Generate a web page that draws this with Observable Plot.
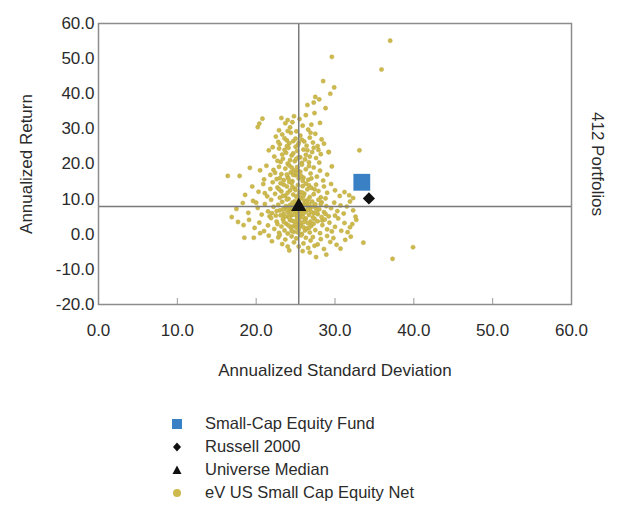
<!DOCTYPE html>
<html><head><meta charset="utf-8">
<script src="https://cdn.jsdelivr.net/npm/d3@7"></script>
<script src="https://cdn.jsdelivr.net/npm/@observablehq/plot@0.6"></script>
<style>
body{margin:0;background:#fff;font-family:"Liberation Sans",Arial,sans-serif;}
#chart{position:relative;width:621px;height:506px;overflow:hidden;}
#legend{position:absolute;left:170px;top:412px;}
#legend .row{height:23px;display:flex;align-items:center;font-size:16.5px;color:#2b2b2b;}
#legend svg{width:14px;height:14px;margin-right:21px;}
</style></head><body><div id="chart"><div id="plot"></div><div id="legend"></div></div>
<script>
// ---- data ----
const xTicks = [0, 10, 20, 30, 40, 50, 60];
const yTicks = [-20, -10, 0, 10, 20, 30, 40, 50, 60];
const seriesNames = ["Small-Cap Equity Fund", "Russell 2000", "Universe Median", "eV US Small Cap Equity Net"];
const seriesColors = ["#3a80c4", "#111111", "#111111", "#cdb94c"];
const seriesSymbols = ["square", "diamond2", "triangle", "circle"];
const fundPoint = [33.4, 14.8];
const indexPoint = [34.3, 10.2];
const medianPoint = [25.4, 7.9];
const portfolioCount = "412 Portfolios";
const peers = [
[23.2,33.1],[24.0,32.5],[24.8,33.6],[25.5,32.8],[26.3,33.9],[27.4,34.5],[27.0,31.2],[24.3,30.4],[25.9,30.9],[23.7,31.6],[26.6,29.8],[28.1,31.7],[22.9,29.6],[25.1,29.3],[24.6,31.9],
[22.5,27.8],[23.3,28.4],[23.9,26.7],[24.4,28.9],[25.0,27.2],[25.6,28.1],[26.1,26.4],[26.8,27.5],[27.5,28.6],[28.3,27.0],[23.0,25.6],[24.2,25.9],[25.3,25.4],[26.4,25.2],[27.2,26.1],[24.7,26.5],[25.8,26.9],[22.8,26.3],[28.6,25.8],[23.6,27.3],[26.9,28.9],[24.0,29.4],[25.4,26.0],[27.8,25.1],[23.9,25.1],
[21.6,23.9],[22.3,22.1],[22.9,24.4],[23.4,21.5],[23.8,23.2],[24.1,24.6],[24.5,22.4],[24.9,20.8],[25.2,23.7],[25.6,21.9],[26.0,24.1],[26.3,22.6],[26.7,20.5],[27.1,23.4],[27.6,21.7],[28.2,22.8],[29.2,23.4],[23.1,20.6],[24.3,21.1],[25.0,24.9],[25.8,20.3],[26.5,23.9],[22.7,20.9],[23.6,24.0],[24.7,23.0],[25.4,22.0],[26.2,21.3],[27.3,24.6],[28.0,20.4],[22.1,24.8],[24.0,20.1],[26.8,22.1],[25.1,21.5],[23.3,22.7],[27.9,24.0],
[19.2,18.9],[17.9,16.6],[16.4,16.6],[20.5,18.2],[21.3,19.5],[21.8,16.9],[22.2,18.3],[22.6,15.7],[22.9,19.2],[23.2,17.1],[23.5,15.4],[23.7,18.7],[24.0,16.3],[24.2,19.6],[24.4,17.6],[24.6,15.1],[24.8,18.2],[25.0,16.8],[25.2,19.1],[25.4,15.9],[25.6,17.8],[25.8,19.8],[26.0,16.1],[26.3,18.5],[26.6,15.5],[26.9,17.3],[27.3,19.0],[27.7,16.4],[28.1,18.1],[28.5,15.3],[29.0,17.0],[23.0,16.0],[23.9,17.0],[24.5,19.0],[25.3,18.0],[25.9,15.2],[26.7,19.4],[22.4,17.5],[24.1,15.8],[25.7,16.6],[27.0,15.9],[21.0,15.6],[29.6,19.3],[24.7,16.9],[25.1,17.4],
[18.6,11.2],[19.5,13.6],[20.3,12.1],[20.9,14.3],[21.4,10.8],[21.8,12.9],[22.1,14.8],[22.4,11.5],[22.7,13.3],[23.0,10.4],[23.2,12.2],[23.5,14.1],[23.7,11.0],[23.9,13.6],[24.1,10.1],[24.3,12.5],[24.5,14.6],[24.7,11.3],[24.9,13.0],[25.1,10.7],[25.3,14.0],[25.5,12.0],[25.7,10.3],[25.9,13.7],[26.1,11.6],[26.3,14.4],[26.5,12.8],[26.8,10.6],[27.0,13.2],[27.3,11.4],[27.6,14.1],[27.9,12.3],[28.2,10.5],[28.6,13.6],[29.0,11.8],[29.5,14.3],[30.0,12.5],[30.6,10.9],[31.2,12.0],[31.8,11.1],[32.3,10.3],[22.9,12.8],[24.0,11.8],[25.0,12.6],[26.0,10.9],[24.6,13.5],[23.4,10.9],[25.8,11.9],[26.7,13.9],[21.1,11.7],[28.8,10.2],[24.2,14.9],[23.1,14.5],[25.4,11.2],[27.4,12.8],
[17.5,7.2],[18.3,8.9],[19.0,6.1],[19.6,9.5],[20.2,7.5],[20.7,5.6],[21.1,8.6],[21.5,6.5],[21.9,9.8],[22.2,7.8],[22.5,5.3],[22.8,8.4],[23.0,6.8],[23.3,9.2],[23.5,5.9],[23.7,7.6],[23.9,9.9],[24.1,6.2],[24.3,8.3],[24.5,5.4],[24.7,7.0],[24.9,9.4],[25.1,5.8],[25.3,6.9],[25.5,8.8],[25.7,5.2],[25.9,7.3],[26.1,9.6],[26.3,6.4],[26.5,8.1],[26.7,5.5],[26.9,7.7],[27.1,9.3],[27.3,6.0],[27.5,8.5],[27.8,5.7],[28.0,7.1],[28.3,9.1],[28.6,6.3],[28.9,8.0],[29.2,5.1],[29.5,7.4],[29.9,9.0],[30.3,6.6],[30.7,8.2],[31.1,5.9],[31.5,7.9],[31.9,9.3],[32.3,6.8],[32.6,5.0],[23.8,8.0],[24.4,6.6],[25.0,7.9],[25.6,6.1],[26.2,8.7],[26.8,6.9],[24.6,9.0],[25.2,5.0],[26.0,7.0],[27.6,7.2],[22.0,6.0],[23.1,5.4],[28.8,5.8],[30.0,5.3],[20.0,9.0],[24.2,7.4],[25.4,9.7],[26.6,9.9],[27.9,9.8],[21.7,5.1],
[24.0,5.1],[24.5,7.8],[25.0,6.4],[25.5,4.6],[26.0,5.9],[26.5,7.0],[27.0,6.4],[27.4,4.4],[24.3,4.0],[24.8,5.6],[25.3,3.1],[25.8,6.8],[26.3,4.5],[26.9,3.6],[24.6,2.2],[25.1,1.9],[25.7,2.7],[26.2,1.1],[23.9,6.9],[26.4,9.2],[24.9,8.2],[25.9,8.3],[26.7,8.6],[27.2,7.9],[23.6,4.9],[27.7,6.1],[28.4,3.9],[23.4,7.1],[22.6,6.6],[28.2,8.6],
[16.9,4.9],[17.7,3.5],[18.4,2.6],[19.1,4.1],[19.8,1.8],[20.4,3.3],[21.0,0.9],[21.5,2.5],[21.9,4.6],[22.3,1.5],[22.6,3.6],[22.9,0.4],[23.2,2.2],[23.4,4.3],[23.6,1.1],[23.8,3.0],[24.0,0.2],[24.2,4.7],[24.4,1.9],[24.6,3.8],[24.8,0.7],[25.0,2.8],[25.2,4.4],[25.4,1.3],[25.6,3.4],[25.8,0.1],[26.0,2.0],[26.2,4.0],[26.4,1.6],[26.6,3.1],[26.8,0.5],[27.0,2.4],[27.2,4.8],[27.5,1.2],[27.8,3.7],[28.1,0.3],[28.4,2.6],[28.7,4.2],[29.0,1.4],[29.3,3.3],[29.6,0.8],[30.0,2.1],[30.4,4.5],[30.8,1.0],[31.2,3.2],[31.6,0.6],[32.2,2.9],[32.7,4.1],[24.1,2.5],[24.9,3.6],[25.5,2.3],[26.1,3.5],[25.3,0.5],[26.7,1.8],[23.5,3.5],[27.3,3.0],[18.5,-1.0],[19.7,-1.0],[20.5,0.3],[21.6,-0.4],[28.3,4.9],[31.9,2.0],[24.5,0.9],[25.9,4.9],[22.7,2.9],
[22.0,-2.0],[22.8,-0.9],[23.3,-2.8],[23.7,-1.5],[24.2,-4.6],[24.5,-0.6],[24.8,-2.3],[25.1,-1.2],[25.4,-3.5],[25.7,-0.3],[26.0,-2.6],[26.3,-1.0],[26.6,-3.9],[26.9,-1.8],[27.2,-0.8],[27.6,-6.5],[27.8,-2.9],[28.2,-1.4],[28.6,-4.2],[29.0,-0.5],[29.4,-2.2],[29.8,-1.1],[30.2,-3.0],[30.7,-4.1],[31.3,-1.6],[32.0,-0.7],[33.6,-2.4],[37.3,-7.0],[39.9,-3.7],[24.0,-3.5],[26.8,-5.2],[25.9,-4.8],[27.4,-3.3],[23.0,-0.2],[28.9,-5.8],
[37.0,55.1],[29.6,50.5],[35.9,46.9],[28.5,43.6],[29.9,41.8],[29.4,40.0],[27.5,39.1],[28.0,38.4],[33.1,23.9],[29.2,23.4],[20.8,32.9],[20.4,31.5],[20.2,30.5],[28.8,35.9],[26.5,36.8],[27.3,37.5]
];

// ---- chart ----
const font = "'Liberation Sans', Arial, sans-serif";
const textColor = "#2b2b2b";
const fmt = d => d.toFixed(1);
const plot = Plot.plot({
  width: 621, height: 390,
  marginLeft: 98, marginRight: 50, marginTop: 23, marginBottom: 86,
  style: {fontFamily: font, color: textColor, background: "#fff"},
  x: {domain: [0, 60]},
  y: {domain: [-20, 60]},
  marks: [
    Plot.axisX(xTicks, {tickFormat: fmt, tickSize: 0, tickPadding: 19, fontSize: 17, label: null}),
    Plot.axisX(xTicks.slice(1, -1), {tickSize: -6, text: null, label: null, stroke: "#999"}),
    Plot.axisY(yTicks, {tickFormat: fmt, tickSize: 0, tickPadding: 4, fontSize: 17, label: null}),
    Plot.dot(peers, {x: d => d[0], y: d => d[1], r: 2.1, fill: seriesColors[3], stroke: "#bba83e", strokeWidth: 0.5}),
    Plot.ruleX([medianPoint[0]], {stroke: "#7a7a7a", strokeWidth: 1.5}),
    Plot.ruleY([medianPoint[1]], {stroke: "#7a7a7a", strokeWidth: 1.5}),
    Plot.frame({stroke: "#8c8c8c", strokeWidth: 1.5}),
    Plot.dot([fundPoint], {x: d => d[0], y: d => d[1], symbol: seriesSymbols[0], r: 9.5, fill: seriesColors[0]}),
    Plot.dot([indexPoint], {x: d => d[0], y: d => d[1], symbol: seriesSymbols[1], r: 5.5, fill: seriesColors[1]}),
    Plot.dot([medianPoint], {x: d => d[0], y: d => d[1], symbol: seriesSymbols[2], r: 5.7, fill: seriesColors[2]}),
    Plot.text(["Annualized Return"], {frameAnchor: "left", dx: -72, rotate: -90, textAnchor: "middle", fontSize: 17, fill: textColor}),
    Plot.text([portfolioCount], {frameAnchor: "right", dx: 26, rotate: 90, textAnchor: "middle", fontSize: 17, fill: textColor}),
    Plot.text(["Annualized Standard Deviation"], {frameAnchor: "bottom", dy: 71, fontSize: 17, fill: textColor})
  ]
});
document.getElementById("plot").appendChild(plot);

// ---- legend ----
const legend = document.getElementById("legend");
const shapes = [
  '<rect x="2" y="2" width="10" height="10"/>',
  '<path d="M7,2.5 L11,7 L7,11.5 L3,7 Z"/>',
  '<path d="M7,2.5 L11.5,11 L2.5,11 Z"/>',
  '<circle cx="7" cy="7" r="4"/>'
];
seriesNames.forEach((name, i) => {
  const row = document.createElement("div");
  row.className = "row";
  row.innerHTML = `<svg viewBox="0 0 14 14"><g fill="${seriesColors[i]}">${shapes[i]}</g></svg><span>${name}</span>`;
  legend.appendChild(row);
});
</script></body></html>
